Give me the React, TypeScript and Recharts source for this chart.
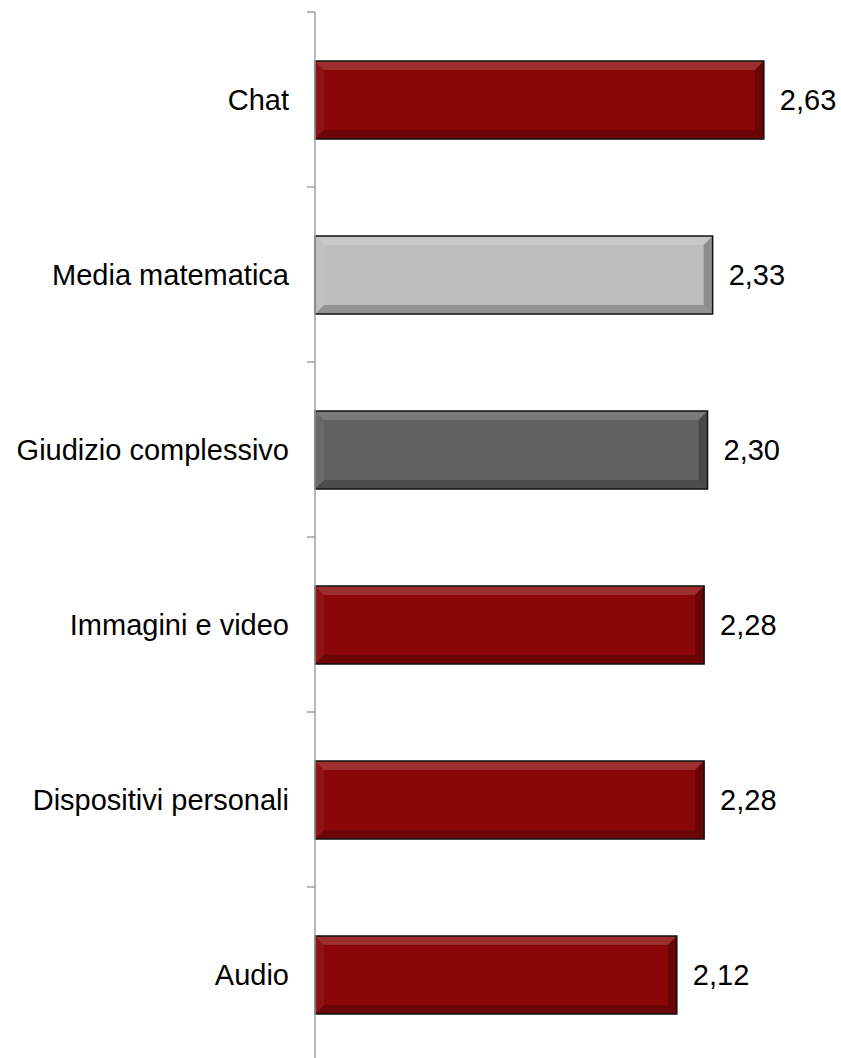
import React from 'react';
import { BarChart, Bar, XAxis, YAxis, Cell, LabelList } from 'recharts';

const categories = [
  'Chat',
  'Media matematica',
  'Giudizio complessivo',
  'Immagini e video',
  'Dispositivi personali',
  'Audio',
];
const values = [2.63, 2.33, 2.3, 2.28, 2.28, 2.12];

const data = categories.map((name, i) => ({ name, value: values[i] }));

const barColors: Record<string, string> = {
  'Media matematica': '#bdbdbd',
  'Giudizio complessivo': '#626262',
};
const RED = '#8b0707';

const W = 841;
const H = 1062;
const TOP = 12;
const AXIS_W = 315;
const BAND = (H - TOP) / categories.length;
const FONT = '"Liberation Sans", Arial, sans-serif';

const BevelBar = (props: any) => {
  const { x, y, width, height, fill } = props;
  if (!width || width <= 0) return null;
  const b = 9;
  return (
    <g>
      <rect x={x} y={y} width={width} height={height} fill={fill} />
      {/* top bevel */}
      <polygon
        points={`${x},${y} ${x + width},${y} ${x + width - b},${y + b} ${x + b},${y + b}`}
        fill="#ffffff"
        fillOpacity={0.16}
      />
      {/* bottom bevel */}
      <polygon
        points={`${x},${y + height} ${x + width},${y + height} ${x + width - b},${y + height - b} ${x + b},${y + height - b}`}
        fill="#000000"
        fillOpacity={0.22}
      />
      {/* left bevel */}
      <polygon
        points={`${x},${y} ${x + b},${y + b} ${x + b},${y + height - b} ${x},${y + height}`}
        fill="#ffffff"
        fillOpacity={0.05}
      />
      {/* right bevel */}
      <polygon
        points={`${x + width},${y} ${x + width - b},${y + b} ${x + width - b},${y + height - b} ${x + width},${y + height}`}
        fill="#000000"
        fillOpacity={0.25}
      />
      <rect x={x} y={y} width={width} height={height} fill="none" stroke="#111" strokeWidth={1.5} />
    </g>
  );
};

const CategoryTick = (props: any) => {
  const { x, y, payload, index } = props;
  const axisX = x + 26;
  const top = y - BAND / 2;
  return (
    <g>
      <line x1={axisX - 8} y1={top} x2={axisX} y2={top} stroke="#a0a0a0" strokeWidth={1.5} />
      {index === categories.length - 1 && (
        <line x1={axisX - 8} y1={top + BAND} x2={axisX} y2={top + BAND} stroke="#a0a0a0" strokeWidth={1.5} />
      )}
      <text x={x} y={y} dy="0.35em" textAnchor="end" fill="#000" fontSize={29} fontFamily={FONT}>
        {payload.value}
      </text>
    </g>
  );
};

export default function App() {
  return (
    <div style={{ position: 'absolute', left: 0, top: 0, width: W, height: 1058, overflow: 'hidden', background: '#fff' }}>
      <BarChart
        width={W}
        height={H}
        data={data}
        layout="vertical"
        margin={{ top: TOP, right: 14, bottom: 0, left: 0 }}
        barSize={78}
      >
        <XAxis type="number" domain={[0, 3]} hide />
        <YAxis
          type="category"
          dataKey="name"
          width={AXIS_W}
          tickLine={false}
          tickSize={8}
          tickMargin={18}
          axisLine={{ stroke: '#a0a0a0', strokeWidth: 1.5 }}
          tick={<CategoryTick />}
          interval={0}
        />
        <Bar dataKey="value" shape={<BevelBar />} isAnimationActive={false}>
          {data.map((d) => (
            <Cell key={d.name} fill={barColors[d.name] ?? RED} />
          ))}
          <LabelList
            dataKey="value"
            position="right"
            offset={16}
            fill="#000"
            fontSize={29}
            fontFamily={FONT}
            formatter={(v: any) => Number(v).toFixed(2).replace('.', ',')}
          />
        </Bar>
      </BarChart>
    </div>
  );
}
